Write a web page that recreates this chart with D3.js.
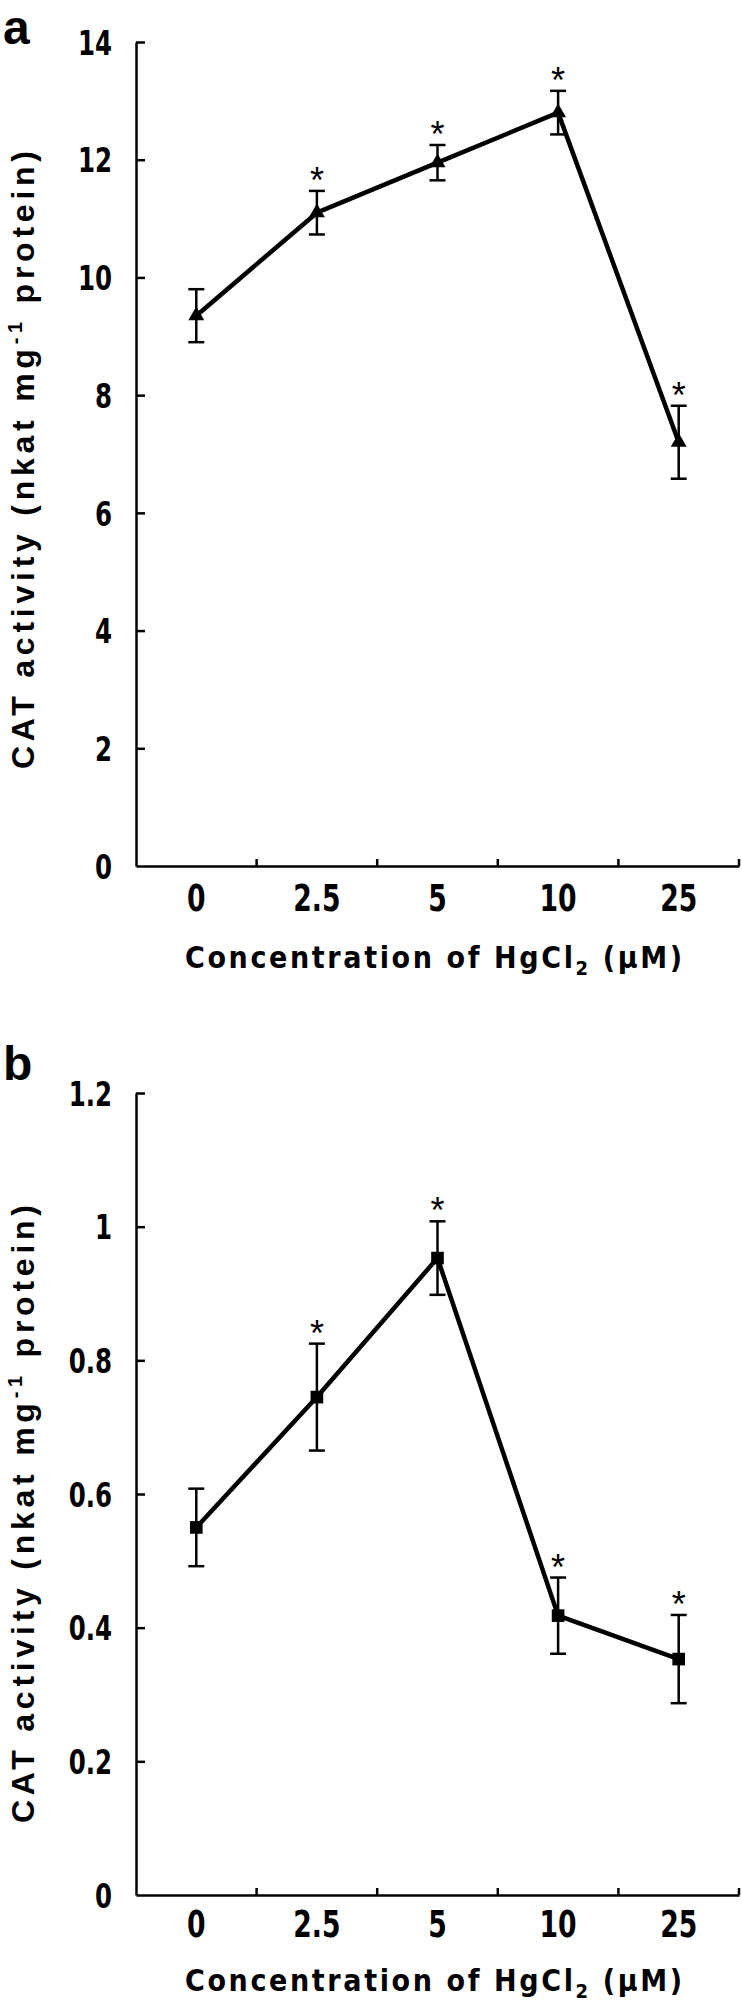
<!DOCTYPE html>
<html>
<head>
<meta charset="utf-8">
<script src="https://cdn.jsdelivr.net/npm/d3@7"></script>
<style>
  body { margin: 0; background: #fff; }
  svg { display: block; }
  .narrow { font-family: "Liberation Sans Narrow", "Arial Narrow", "DejaVu Sans Condensed", sans-serif; font-weight: bold; }
  .sans { font-family: "Liberation Sans", Arial, sans-serif; }
</style>
</head>
<body>
<svg id="chart" width="742" height="2003"></svg>
<script>
// HgCl2 concentrations (µM)
var categories = ['0', '2.5', '5', '10', '25'];

// panel a: CAT activity
var valuesA = [9.35, 11.1, 11.95, 12.8, 7.2];
var errorsA = [0.45, 0.37, 0.3, 0.37, 0.62];
var starsA = [false, true, true, true, true];
var ticksA = [0, 2, 4, 6, 8, 10, 12, 14];

// panel b: CAT activity
var valuesB = [0.55, 0.745, 0.953, 0.418, 0.353];
var errorsB = [0.058, 0.08, 0.055, 0.057, 0.066];
var starsB = [false, true, true, true, true];
var ticksB = [0, 0.2, 0.4, 0.6, 0.8, 1, 1.2];

var svg = d3.select('#chart');
var squeeze = 0.8; // condensed look of the tick numbers

function panel(opt) {
  var g = svg.append('g');
  var x = d3.scaleBand().domain(categories).range([136, 739]).padding(0);
  var y = d3.scaleLinear().domain([0, opt.max]).range([opt.bottom, opt.top]);

  // panel letter
  g.append('text').attr('class', 'sans')
      .attr('x', 3).attr('y', opt.letterY)
      .style('font-size', '48px').style('font-weight', 'bold')
      .text(opt.letter);

  // y axis, ticks pointing inward
  var yAxis = g.append('g')
      .attr('transform', 'translate(136,0)')
      .call(d3.axisLeft(y).tickValues(opt.ticks).tickSizeInner(-9).tickSizeOuter(0)
        .tickPadding(24).tickFormat(function(d) { return String(d); }));
  yAxis.selectAll('path, line').attr('stroke', '#000').attr('stroke-width', 2.5);
  yAxis.selectAll('text').attr('class', 'narrow').attr('fill', '#000')
      .style('font-size', '34px').attr('dy', '0.36em')
      .attr('x', -24 / squeeze)
      .attr('transform', 'scale(' + squeeze + ',1)');
  yAxis.selectAll('.tick').filter(function(d) { return d === 0; }).select('line').remove();

  // x axis: labels centred on bands, ticks on band edges
  var xAxis = g.append('g')
      .attr('transform', 'translate(0,' + opt.bottom + ')')
      .call(d3.axisBottom(x).tickSize(0).tickPadding(opt.labelPad));
  xAxis.select('.domain').attr('stroke', '#000').attr('stroke-width', 2.5);
  xAxis.selectAll('text').attr('class', 'narrow').attr('fill', '#000')
      .style('font-size', '37px')
      .attr('transform', 'scale(' + squeeze + ',1)');
  xAxis.selectAll('.edge')
      .data(categories)
    .enter().append('line')
      .attr('class', 'edge')
      .attr('x1', function(d) { return x(d) + x.bandwidth(); })
      .attr('x2', function(d) { return x(d) + x.bandwidth(); })
      .attr('y1', 0).attr('y2', -7)
      .attr('stroke', '#000').attr('stroke-width', 2.5);

  // axis titles
  var xt = g.append('text').attr('class', 'narrow')
      .attr('x', 185).attr('y', opt.titleY)
      .attr('textLength', 497).attr('lengthAdjust', 'spacing')
      .style('font-size', '30px');
  xt.append('tspan').text('Concentration of HgCl');
  xt.append('tspan').attr('dy', 7).style('font-size', '20px').text('2');
  xt.append('tspan').attr('dy', -7).text(' (µM)');

  var yt = g.append('text').attr('class', 'sans')
      .attr('transform', 'translate(34,' + ((opt.top + opt.bottom) / 2 + opt.titleShift) + ') rotate(-90)')
      .attr('x', -309)
      .attr('textLength', 618).attr('lengthAdjust', 'spacing')
      .style('font-size', '32px').style('font-weight', 'bold');
  yt.append('tspan').text('CAT activity (nkat mg');
  yt.append('tspan').attr('dy', -12).style('font-size', '20px').text('-1');
  yt.append('tspan').attr('dy', 12).text('  protein)');

  var pts = categories.map(function(c, i) {
    return {c: c, v: opt.values[i], e: opt.errors[i], s: opt.stars[i]};
  });
  var cx = function(d) { return x(d.c) + x.bandwidth() / 2; };

  // connecting line
  g.append('path')
      .datum(pts)
      .attr('fill', 'none').attr('stroke', '#000').attr('stroke-width', 4.5)
      .attr('stroke-linejoin', 'round')
      .attr('d', d3.line().x(cx).y(function(d) { return y(d.v); }));

  // error bars
  var eb = g.selectAll('.err').data(pts).enter().append('g').attr('class', 'err')
      .attr('stroke', '#000').attr('stroke-width', 2.5);
  eb.append('line')
      .attr('x1', cx).attr('x2', cx)
      .attr('y1', function(d) { return y(d.v + d.e); })
      .attr('y2', function(d) { return y(d.v - d.e); });
  eb.append('line')
      .attr('x1', function(d) { return cx(d) - 8; }).attr('x2', function(d) { return cx(d) + 8; })
      .attr('y1', function(d) { return y(d.v + d.e); }).attr('y2', function(d) { return y(d.v + d.e); });
  eb.append('line')
      .attr('x1', function(d) { return cx(d) - 8; }).attr('x2', function(d) { return cx(d) + 8; })
      .attr('y1', function(d) { return y(d.v - d.e); }).attr('y2', function(d) { return y(d.v - d.e); });

  // markers
  g.selectAll('.mk').data(pts).enter().append('path').attr('class', 'mk')
      .attr('transform', function(d) { return 'translate(' + cx(d) + ',' + y(d.v) + ')'; })
      .attr('d', d3.symbol().type(opt.symbol).size(opt.symbolSize))
      .attr('fill', '#000');

  // significance stars
  g.selectAll('.star').data(pts.filter(function(d) { return d.s; })).enter().append('text')
      .attr('class', 'sans')
      .attr('x', cx).attr('y', function(d) { return y(d.v + d.e) + 2; })
      .attr('text-anchor', 'middle')
      .style('font-size', '36px')
      .text('*');
}

panel({
  letter: 'a', letterY: 44, max: 14, top: 42, bottom: 866, ticks: ticksA,
  values: valuesA, errors: errorsA, stars: starsA, titleShift: 6,
  symbol: d3.symbolTriangle, symbolSize: 110, labelPad: 19, titleY: 968
});

panel({
  letter: 'b', letterY: 1080, max: 1.2, top: 1093, bottom: 1895, ticks: ticksB,
  values: valuesB, errors: errorsB, stars: starsB, titleShift: 20,
  symbol: d3.symbolSquare, symbolSize: 160, labelPad: 16, titleY: 1991
});
</script>
</body>
</html>
